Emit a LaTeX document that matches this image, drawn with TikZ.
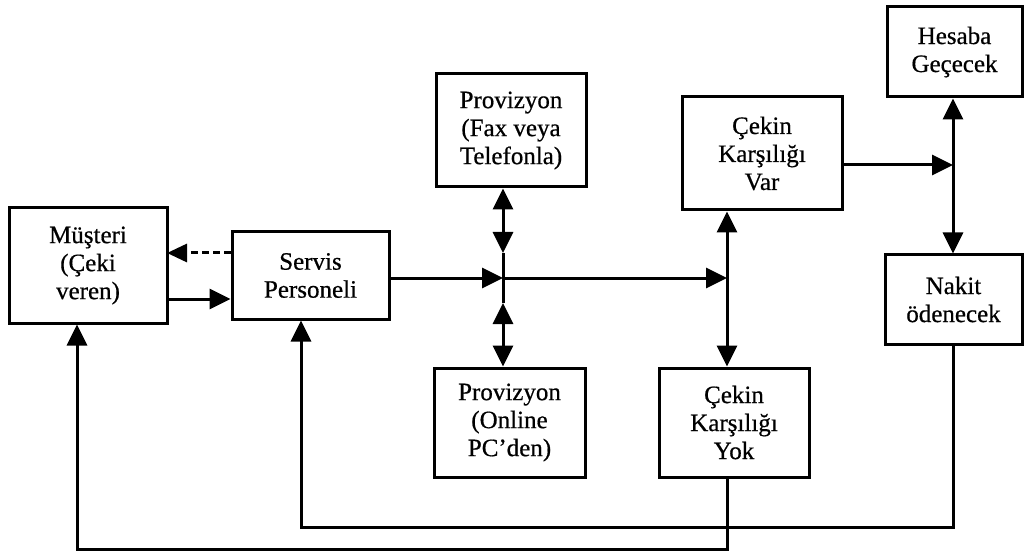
\documentclass[tikz,border=0pt]{standalone}
\usepackage{fontspec}
\setmainfont{Liberation Serif}[FakeBold=0.6]
\usetikzlibrary{arrows.meta}
\begin{document}
\begin{tikzpicture}[x=1pt,y=-1pt,
  box/.style={draw, line width=3pt, align=center, inner sep=0pt,
    font=\fontsize{25}{28}\selectfont},
  link/.style={line width=3pt},
  tip/.style={-{Triangle[length=21pt,width=20pt]}},
  twotip/.style={{Triangle[length=21pt,width=20pt]}-{Triangle[length=21pt,width=20pt]}}]
\useasboundingbox (0,0) rectangle (1030,553);

% boxes
\node[box, minimum width=158pt, minimum height=115pt] (mus) at (88,265.5) {Müşteri\\(Çeki\\veren)};
\node[box, minimum width=157pt, minimum height=87pt] (ser) at (310.5,275.5) {Servis\\Personeli};
\node[box, minimum width=150pt, minimum height=113pt] (fax) at (511,130.5) {Provizyon\\(Fax veya\\Telefonla)};
\node[box, minimum width=151pt, minimum height=109pt] (onl) at (509.5,422.5) {Provizyon\\(Online\\PC’den)};
\node[box, minimum width=160pt, minimum height=113pt] (var) at (762,153.5) {Çekin\\Karşılığı\\Var};
\node[box, minimum width=150pt, minimum height=109pt] (yok) at (734,422.5) {Çekin\\Karşılığı\\Yok};
\node[box, minimum width=135pt, minimum height=90pt] (hes) at (954.5,52) {Hesaba\\Geçecek};
\node[box, minimum width=137pt, minimum height=89pt] (nak) at (953.5,299.5) {Nakit\\ödenecek};

% junction points
\coordinate (j1) at (503,278);
\coordinate (j1u) at (503,253);
\coordinate (j1d) at (503,303);
\coordinate (j2) at (727,278);
\coordinate (j3) at (953,165);
\coordinate (m1) at (167,253);
\coordinate (m2) at (167,299);
\coordinate (b1) at (953,527);
\coordinate (b2) at (301,527);
\coordinate (c1) at (727,549);
\coordinate (c2) at (77,549);

% customer and service staff
\draw[link, -{Triangle[length=20pt,width=18pt]}, dash pattern=on 7pt off 4pt] (ser.west |- m1) -- (m1);
\draw[link, tip] (m2) -- (ser.west |- m2);

% provision channels
\draw[link, tip] (ser.east |- j1) -- (j1);
\draw[link, twotip] (fax.south -| j1) -- (j1u);
\draw[link] (j1u) -- (j1d);
\draw[link, twotip] (j1d) -- (onl.north -| j1);
\draw[link, tip] (j1) -- (j2);

% cover available / not available
\draw[link, twotip] (var.south -| j2) -- (yok.north -| j2);
\draw[link, tip] (var.east |- j3) -- (j3);
\draw[link, twotip] (hes.south -| j3) -- (nak.north -| j3);

% return paths
\draw[link, tip] (nak.south -| b1) -- (b1) -- (b2) -- (ser.south -| b2);
\draw[link, tip] (yok.south -| c1) -- (c1) -- (c2) -- (mus.south -| c2);
\end{tikzpicture}
\end{document}
